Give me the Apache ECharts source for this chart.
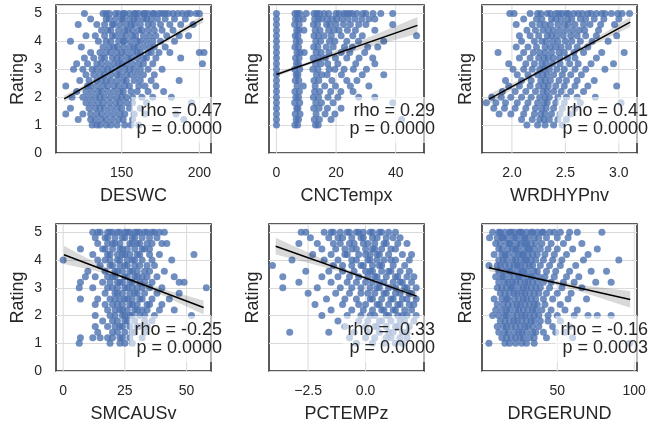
<!DOCTYPE html>
<html><head><meta charset="utf-8">
<script src="https://cdn.jsdelivr.net/npm/echarts@6/dist/echarts.min.js"></script>
<style>html,body{margin:0;padding:0;background:#fff}#c{width:652px;height:425px}</style>
</head><body><div id="c"></div>
<script>
// Rating levels (rows of the scatter), top to bottom
const ratingLevels = [5.0,4.8,4.6,4.4,4.2,4.0,3.8,3.6,3.4,3.2,3.0,2.8,2.6,2.4,2.2,2.0,1.8,1.6,1.4,1.2,1.0];

// x values read per rating row, one array per panel
const deswcRows = [
 [126,138,140,142,146,148,151,152,155,158,159,161,164,165,167,170,171,174,176,178,180,183,186,189,192,194,198,200],
 [130,140,142,146,150,151,155,158,160,164,166,169,173,178,184,191],
 [122,134,139,144,145,149,153,156,158,162,167,170,175,181,188,196],
 [137,141,143,148,152,154,157,161,163,167,171,176,183],
 [127,133,139,144,146,150,153,157,159,164,168,172,179,187,193],
 [117,135,140,143,148,151,152,156,160,162,166,170,175,184],
 [124,138,142,145,147,151,155,158,160,164,168,171,178],
 [130,136,140,143,147,150,153,157,160,162,167,169,174,181,200,203],
 [126,132,137,139,144,147,150,154,156,160,164,166,172,188],
 [121,128,134,137,141,145,148,150,153,157,161,164,170,202],
 [119,125,131,134,138,141,144,148,152,155,158,162,167,176],
 [127,132,136,139,143,147,149,153,156,160,164,171],
 [123,129,134,137,140,143,147,151,153,158,162,169,187],
 [114,128,130,134,138,141,145,148,152,155,161,165,172],
 [121,127,131,135,137,141,145,149,151,156,160,167,177],
 [118,125,129,133,136,139,143,147,150,153,157,163,170,182],
 [127,131,135,138,142,146,149,153,157,166,195],
 [117,129,133,136,139,143,147,150,155,162],
 [114,125,130,134,137,141,145,149,152,158,165,185],
 [122,130,133,137,140,144,148,151,157,190],
 [131,134,136,140,143,147,152,156,161]
];
const cnctempxRows = [
 [0,6.2,7,7.8,10,12.6,13.5,14.4,16,17.5,20,21,22.6,23.5,24.5,25.5,27,29,30,32.4,35,39],
 [0,6.4,7.3,9,12.8,14,15.2,17,18.7,20.2,22,24,26.3,28.6,31,33],
 [0,6.1,7.6,12.4,13.8,16.8,18,20,22.5,24.8,27.6,30,39],
 [0,6.8,7.5,9.2,13,14.6,17.5,19.3,21,23.8,26.5,33],
 [0,6.3,7.2,12.6,14.1,16,18.4,21.7,25.6,28.8,47],
 [0,6.6,7.7,13.2,14.8,17.8,19.6,23.6,27.5,36],
 [0,6.2,7.4,12.5,13.9,16.7,19,22.8,25.5,30.6,34],
 [0,6.9,7.9,9.3,13.3,15,17.6,21.7,24.6,29.6],
 [0,6.4,7.6,12.3,14.3,16.4,19.8,23.6,27.7,32.3],
 [0,6.7,7.4,13.1,14.9,17.2,20.6,26.6,33],
 [0,6.1,7.8,12.2,13.9,17.7,19.6,22.7,25.8,30.2],
 [0,6.6,7.2,13.4,15.2,17,21.8,28.8,36],
 [0,6.3,7.5,12.6,14.2,18.6,23.6,27],
 [0,6.9,9,13,16.2,19.8,24.8,31],
 [0,6.2,7.7,12.8,14.5,18.2,21.6,25.7],
 [0,6.5,7.4,12.4,14.1,17.3,20.6,27.6,33],
 [0,6.1,7.8,13.2,15.1,19,39],
 [0,6.8,7.2,12.5,14.3,17.1,21.7],
 [0,6.3,7.9,13.3,16.3,19.6],
 [0,6.6,7.4,12.7,14.4,18.3,42],
 [0,6.2,7.1,13.1,14]
];
const wrdhypnvRows = [
 [1.98,2.02,2.17,2.24,2.27,2.33,2.36,2.41,2.44,2.47,2.51,2.53,2.58,2.62,2.66,2.71,2.74,2.79,2.84,2.87,2.93,2.99,3.03,3.1],
 [2.11,2.23,2.28,2.37,2.41,2.46,2.52,2.56,2.64,2.69,2.77,2.86,3.0],
 [2.04,2.19,2.26,2.31,2.36,2.43,2.49,2.53,2.59,2.67,2.73,2.83,2.96],
 [2.14,2.22,2.29,2.34,2.39,2.45,2.51,2.57,2.63,2.68,2.81],
 [2.07,2.17,2.25,2.33,2.37,2.42,2.48,2.55,2.61,2.69,2.79,2.98],
 [2.09,2.21,2.28,2.32,2.38,2.43,2.5,2.56,2.64,2.75,2.9],
 [2.04,2.15,2.23,2.31,2.36,2.41,2.46,2.53,2.61,2.71],
 [1.87,2.11,2.2,2.26,2.31,2.37,2.44,2.49,2.58,2.67,2.84,3.05],
 [2.07,2.17,2.25,2.3,2.34,2.39,2.45,2.52,2.59,2.79],
 [1.97,2.13,2.21,2.28,2.32,2.38,2.45,2.54,2.62,2.74,2.95],
 [2.01,2.11,2.19,2.26,2.3,2.35,2.42,2.49,2.59,2.69,2.87],
 [2.05,2.15,2.24,2.29,2.33,2.39,2.47,2.55,2.65],
 [1.94,2.09,2.18,2.27,2.31,2.36,2.44,2.51,2.61,2.77],
 [1.97,2.07,2.17,2.25,2.3,2.34,2.41,2.49,2.59,2.71,2.98],
 [1.91,2.03,2.13,2.22,2.29,2.33,2.39,2.46,2.55,2.67],
 [1.81,1.9,1.99,2.09,2.18,2.26,2.31,2.35,2.43,2.51,2.61,2.78],
 [1.76,1.85,1.94,2.05,2.15,2.24,2.3,2.33,2.41,2.49,2.64,3.02],
 [1.83,1.93,2.03,2.13,2.22,2.28,2.32,2.39,2.47,2.59],
 [1.88,1.99,2.11,2.21,2.27,2.31,2.37,2.45,2.55],
 [2.09,2.19,2.26,2.3,2.35,2.43,2.51],
 [2.14,2.24,2.31,2.39,2.47]
];
const smcausvRows = [
 [12,14,15,18,19,20,22,23,25,26,27,29,30,31,33,34,36,37,39,41],
 [13,17,18,21,24,25,28,29,32,35,38],
 [14,18,20,21,23,27,28,30,31,34,36,40,42],
 [7,16,17,20,23,24,26,29,32,33,35],
 [12,18,19,22,24,25,27,30,31,35,39,53],
 [0,14,17,19,22,23,26,28,29,32,36,44],
 [15,19,20,23,25,26,29,31,34,37],
 [10,17,21,22,24,27,28,30,33,35,41],
 [9,13,18,20,21,25,26,29,30,32,34,38,45],
 [7,16,19,22,23,24,27,28,31,33,36,47,49],
 [6.5,12,18,20,22,25,26,28,30,32,35,40,58],
 [17,21,22,24,27,29,30,33,38,47],
 [7,14,19,21,23,25,26,28,31,32,36,43],
 [13,17,20,22,24,27,28,30,34,35,40],
 [18,21,23,24,26,29,30,32,34,39,45],
 [13,19,21,24,25,27,28,31,33,37,52],
 [16,20,22,25,26,29,33,36],
 [13,18,21,23,24,27,30,31,34],
 [14,20,22,25,28,29,33],
 [7,12,15,18,20,23,24,27,32],
 [6.5,19,23,25,28]
];
const pctempzRows = [
 [-2.8,-2.6,-1.8,-1.5,-1.4,-1.1,-0.8,-0.7,-0.4,-0.3,-0.1,0.2,0.3,0.6,0.7,1.0,1.3],
 [-2.4,-1.6,-1.2,-1.0,-0.6,-0.2,-0.1,0.3,0.5,0.9,1.2,1.5],
 [-2.9,-2.1,-1.4,-1.1,-0.7,-0.5,-0.1,0.1,0.4,0.8,0.9,1.4,1.8],
 [-1.9,-1.3,-0.9,-0.6,-0.4,0.0,0.3,0.4,0.7,1.1,1.3],
 [-2.3,-1.5,-0.9,-0.8,-0.3,0.0,0.2,0.5,0.6,1.0,1.6,2.0],
 [-3.2,-1.8,-1.2,-0.6,-0.4,0.1,0.2,0.5,0.8,1.1,1.3,1.9],
 [-4.05,-1.4,-1.0,-0.6,-0.2,-0.1,0.3,0.6,0.7,1.2,1.7],
 [-2.6,-1.6,-1.0,-0.5,0.0,0.2,0.3,0.7,1.0,1.1,1.5,1.9],
 [-3.6,-1.9,-1.2,-0.7,-0.3,0.1,0.4,0.5,0.9,1.3,1.4,1.8,2.1],
 [-2.9,-1.5,-0.8,-0.4,0.0,0.3,0.6,0.8,1.2,1.5,1.6,2.0],
 [-3.6,-2.1,-1.1,-0.6,-0.2,0.2,0.5,0.6,1.0,1.3,1.7,1.8,2.2],
 [-2.5,-1.3,-0.7,-0.2,0.1,0.4,0.8,0.9,1.3,1.5,1.9,2.0],
 [-1.7,-0.9,-0.4,0.2,0.3,0.7,1.1,1.2,1.6,1.8,2.2],
 [-2.2,-1.0,-0.3,0.0,0.5,0.6,1.0,1.4,1.5,1.9,2.1],
 [-1.5,-0.6,-0.1,0.3,0.7,0.8,1.2,1.3,1.7,2.0],
 [-1.9,-0.8,-0.2,0.2,0.4,0.9,1.0,1.4,1.6,1.8,2.2],
 [-1.2,-0.3,0.1,0.6,0.7,1.1,1.5,1.7,2.1],
 [-0.9,0.0,0.4,0.5,0.9,1.3,1.4,1.9],
 [-3.3,-1.6,-0.5,0.1,0.6,1.0,1.2,1.6,1.8],
 [-0.7,0.0,0.4,0.9,1.1,1.5,1.8],
 [-0.4,0.3,0.8,1.3,1.6]
];
const drgerundRows = [
 [8,12,13,16,19,20,22,25,26,27,30,33,34,37,40,41,45,48,52,58,63,79],
 [6,11,14,15,18,22,23,27,29,31,35,38,43,50,57],
 [10,13,17,19,20,24,26,29,30,33,36,40,46,54,66],
 [12,14,18,21,23,24,28,31,32,35,39,44,50,60,76],
 [9,14,16,18,22,25,27,28,31,34,37,42,48,56,70],
 [12,15,17,21,23,26,29,30,33,36,41,47,53,67,90],
 [5.6,11,13,16,19,22,24,26,29,32,34,39,45,52,62],
 [12,16,19,20,24,27,28,31,35,37,43,49,58,72,82],
 [10,14,15,19,22,25,26,30,33,34,38,42,48,56,64],
 [12,16,18,21,23,26,29,31,34,37,41,46,54,61,75,85],
 [11,14,17,20,21,25,28,30,33,36,39,45,53,66],
 [13,16,19,22,24,27,29,32,35,38,43,50,59],
 [9,14,17,18,22,25,28,30,33,36,41,47,57,69],
 [11,15,18,21,24,26,29,32,35,37,42,52],
 [10,14,17,19,23,25,28,31,34,36,40,46,55,63],
 [8,12,16,17,21,24,27,29,32,35,38,44,50,61,70,76,85],
 [13,16,19,22,24,27,30,33,35,39,44,52],
 [11,15,17,20,23,26,29,31,34,38,47,58],
 [12,16,18,22,25,27,30,34,36,41,49,55],
 [14,17,20,23,26,28,32,35,43,60],
 [5.6,16,19,23,27,30,35,97]
];

const xNames = ['DESWC','CNCTempx','WRDHYPnv','SMCAUSv','PCTEMPz','DRGERUND'];
const xMins = [107.7,-2.5,1.72,-2.9,-4.2,1.1];
const xMaxs = [207.5,49.5,3.17,59.9,2.54,101.8];
const xTicks = [[150,200],[0,20,40],[2.0,2.5,3.0],[0,25,50],[-2.5,0.0],[50,100]];
const xTickLabels = [['150','200'],['0','20','40'],['2.0','2.5','3.0'],['0','25','50'],['\u22122.5','0.0'],['50','100']];
const yTicks = [0,1,2,3,4,5];
const rhoTexts = ['rho = 0.47','rho = 0.29','rho = 0.41','rho = -0.25','rho = -0.33','rho = -0.16'];
const pTexts = ['p = 0.0000','p = 0.0000','p = 0.0000','p = 0.0000','p = 0.0000','p = 0.0003'];

// regression line end points and confidence band half-widths
const fitStart = [[113,1.94],[0,2.81],[1.786,1.93],[0.3,4.19],[-3.91,4.5],[5.6,3.72]];
const fitEnd = [[202.4,4.81],[47.3,4.57],[3.107,4.69],[56.9,2.29],[2.22,2.70],[97.4,2.58]];
const bandX = [
 [113,135,158,180,202.4],[0,8,20,34,47.3],[1.786,2.1,2.45,2.78,3.107],
 [0.3,13,26,42,56.9],[-3.91,-2.4,-0.9,0.6,2.22],[5.6,20,35,65,97.4]
];
const bandHalf = [
 [0.12,0.06,0.04,0.07,0.15],[0.08,0.05,0.11,0.2,0.3],[0.18,0.08,0.05,0.1,0.18],
 [0.33,0.15,0.06,0.13,0.25],[0.3,0.18,0.08,0.05,0.15],[0.12,0.06,0.04,0.12,0.3]
];

const allRows = [deswcRows,cnctempxRows,wrdhypnvRows,smcausvRows,pctempzRows,drgerundRows];

const FONT = '"Liberation Sans", Arial, sans-serif';
const TXT = '#262626';
const colLeft = [56,269,482], colW = 155;
const rowTop = [5,224], rowH = [148,147];
const Y_MAX = 5.3;

const grids=[], xAxes=[], yAxes=[], series=[], graphics=[];
for (let i=0;i<6;i++){
  const c=i%3, r=Math.floor(i/3);
  grids.push({left:colLeft[c], top:rowTop[r], width:colW, height:rowH[r], show:true,
    borderColor:'#262626', borderWidth:1.5, backgroundColor:'transparent', containLabel:false});
  xAxes.push({type:'value', gridIndex:i, min:xMins[i], max:xMaxs[i],
    name:xNames[i], nameLocation:'middle', nameGap:34,
    nameTextStyle:{fontSize:18, color:TXT, fontFamily:FONT},
    axisLine:{show:false}, axisTick:{show:false}, splitLine:{show:false},
    axisLabel:{customValues:xTicks[i], margin:13, fontSize:14, color:TXT, fontFamily:FONT,
      formatter:(v)=>{const k=xTicks[i].findIndex(t=>Math.abs(t-v)<1e-9);return k>=0?xTickLabels[i][k]:'';}}
  });
  yAxes.push({type:'value', gridIndex:i, min:0, max:Y_MAX, interval:1,
    name:'Rating', nameLocation:'middle', nameRotate:90, nameGap: c===0?29:7,
    nameTextStyle:{fontSize:18, color:TXT, fontFamily:FONT},
    axisLine:{show:false}, axisTick:{show:false},
    splitLine:{show:true, lineStyle:{color:'#dadada', width:1}},
    axisLabel:{show:c===0, margin:14, fontSize:14, color:TXT, fontFamily:FONT,
      formatter:(v)=>yTicks.includes(v)?String(v):''}
  });
  // vertical grid lines at x ticks
  series.push({type:'custom', xAxisIndex:i, yAxisIndex:i, z:1, silent:true,
    data:xTicks[i].map(v=>[v,0]),
    renderItem:(params,api)=>{
      const v=api.value(0);
      const a=api.coord([v,0]), b=api.coord([v,Y_MAX]);
      return {type:'line', shape:{x1:a[0],y1:a[1],x2:b[0],y2:b[1]}, style:{stroke:'#dadada', lineWidth:1}};
    }});
  // scatter points
  const pts=[];
  allRows[i].forEach((row,k)=>row.forEach(x=>pts.push([x, ratingLevels[k]])));
  series.push({type:'scatter', xAxisIndex:i, yAxisIndex:i, z:2, silent:true,
    symbolSize:7, itemStyle:{color:'#4c72b0', opacity:0.8}, data:pts});
  // regression line + CI band
  series.push({type:'custom', xAxisIndex:i, yAxisIndex:i, z:3, silent:true,
    data:[[fitStart[i][0],fitStart[i][1]]],
    renderItem:(params,api)=>{
      const [x0,y0]=fitStart[i], [x1,y1]=fitEnd[i];
      const ly = x => y0+(y1-y0)*(x-x0)/(x1-x0);
      const up = bandX[i].map((x,k)=>api.coord([x, ly(x)+bandHalf[i][k]]));
      const lo = bandX[i].map((x,k)=>api.coord([x, ly(x)-bandHalf[i][k]])).reverse();
      const p0=api.coord([x0,y0]), p1=api.coord([x1,y1]);
      return {type:'group', children:[
        {type:'polygon', shape:{points:up.concat(lo)}, style:{fill:'rgba(0,0,0,0.15)'}},
        {type:'line', shape:{x1:p0[0],y1:p0[1],x2:p1[0],y2:p1[1]}, style:{stroke:'#000', lineWidth:1.5}}
      ]};
    }});
  // annotation box
  graphics.push({type:'text', z:100,
    x: colLeft[c]+colW+15, y: rowTop[r]+92,
    style:{text: rhoTexts[i]+'\n'+pTexts[i], textAlign:'right', textVerticalAlign:'top',
      font:'18px '+FONT, fill:TXT, lineHeight:18,
      backgroundColor:'rgba(255,255,255,0.6)', padding:[5,4,5,5]}});
}

const chart = echarts.init(document.getElementById('c'), null, {renderer:'canvas'});
chart.setOption({
  animation:false, backgroundColor:'#ffffff',
  grid:grids, xAxis:xAxes, yAxis:yAxes, series:series, graphic:graphics
});
</script></body></html>
